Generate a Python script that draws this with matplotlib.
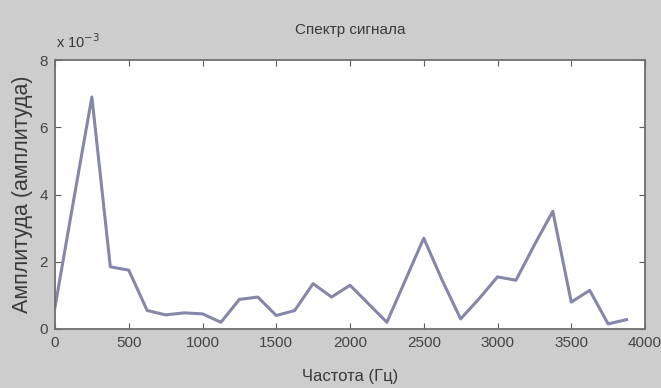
import matplotlib
matplotlib.use("Agg")
import matplotlib.pyplot as plt

plt.rcParams['font.family'] = ['Liberation Sans', 'DejaVu Sans']

# Frequency bins (Hz) and spectrum amplitude in units of 1e-3
freq_hz = [0, 125, 250, 375, 500, 625, 750, 875, 1000, 1125, 1250, 1375,
           1500, 1625, 1750, 1875, 2000, 2125, 2250, 2375, 2500, 2625,
           2750, 2875, 3000, 3125, 3250, 3375, 3500, 3625, 3750, 3875]
amplitude_e3 = [0.65, 3.8, 6.9, 1.85, 1.75, 0.55, 0.42, 0.48, 0.45, 0.2,
                0.88, 0.95, 0.4, 0.55, 1.35, 0.95, 1.3, 0.75, 0.2, 1.45,
                2.7, 1.45, 0.3, 0.9, 1.55, 1.45, 2.5, 3.5, 0.8, 1.15,
                0.15, 0.28]

x_ticks = [0, 500, 1000, 1500, 2000, 2500, 3000, 3500, 4000]
y_ticks = [0, 2, 4, 6, 8]

fig = plt.figure(figsize=(6.61, 3.88), dpi=100)
fig.patch.set_facecolor('#cdcdcd')
ax = fig.add_axes([55 / 661, 1 - 329 / 388, 590 / 661, 269 / 388])
ax.set_facecolor('white')

ax.plot(freq_hz, amplitude_e3, color='#8686aa', linewidth=2.2)

ax.set_xlim(0, 4000)
ax.set_ylim(0, 8)
ax.set_xticks(x_ticks)
ax.set_yticks(y_ticks)
ax.tick_params(direction='in', top=True, right=True, length=4, pad=5,
               labelsize=11, colors='#5a5a5a', labelcolor='#444444')
for s in ax.spines.values():
    s.set_color('#6e6e6e')
    s.set_linewidth(1.3)

ax.set_title('Спектр сигнала', fontsize=11, color='#3a3a3a', pad=19)
ax.set_xlabel('Частота (Гц)', fontsize=12, color='#3a3a3a', labelpad=14)
ax.set_ylabel('Амплитуда (амплитуда)', fontsize=15.5, color='#3a3a3a', labelpad=5)

fig.text(56 / 661, 1 - 48 / 388, r'x 10$^{-3}$', fontsize=10.5, color='#3a3a3a')

fig.savefig('out.png', dpi=100, facecolor=fig.get_facecolor())
